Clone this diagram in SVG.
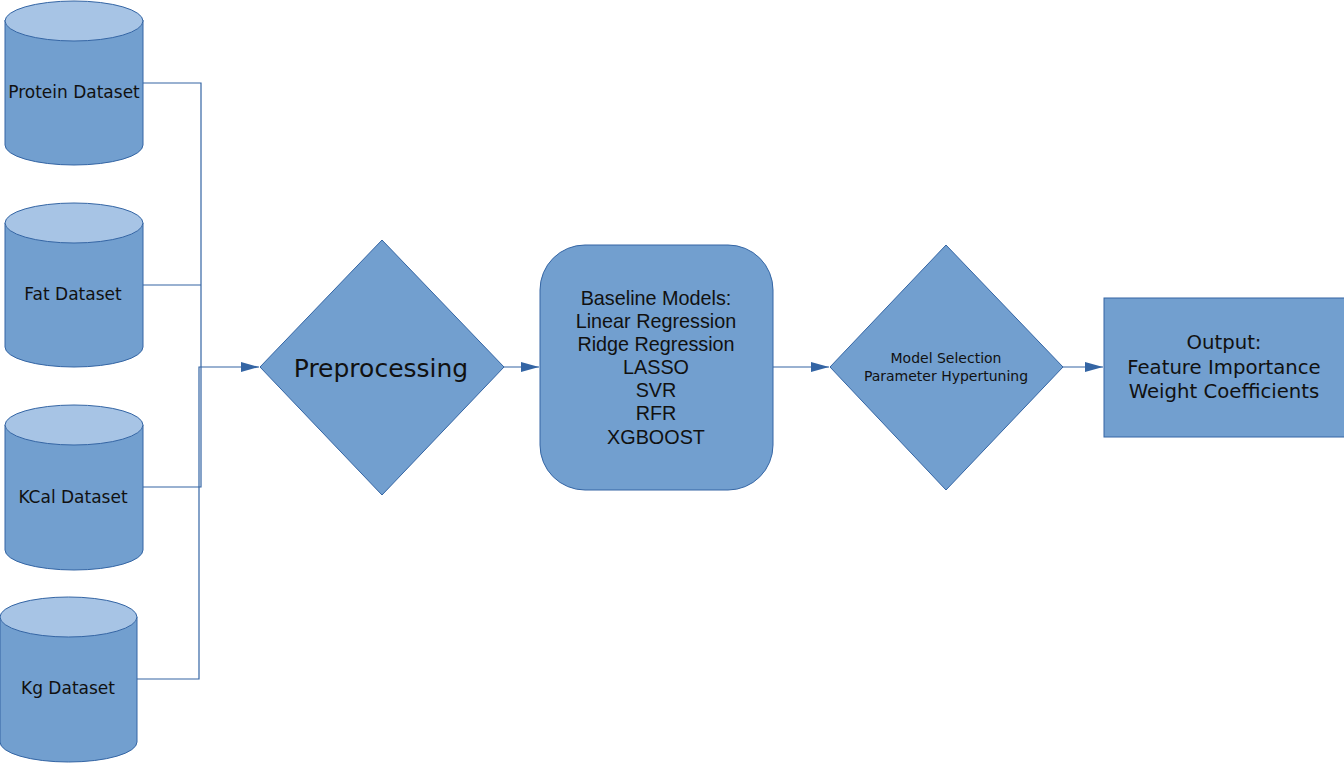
<svg xmlns="http://www.w3.org/2000/svg" width="1344" height="768" viewBox="0 0 1344 768">
<defs>
<style>
.shape{fill:#729fcf;stroke:#3465a4;stroke-width:1}
.top{fill:#a7c4e5;stroke:#3465a4;stroke-width:1}
.conn{fill:none;stroke:#3465a4;stroke-width:1.2}
.ds{font-family:"DejaVu Sans",sans-serif;font-size:17px;fill:#111;text-anchor:middle}
.dv{font-family:"DejaVu Sans",sans-serif;fill:#111;text-anchor:middle}
.lib{font-family:"Liberation Sans",Arial,sans-serif;font-size:19.8px;fill:#111;text-anchor:middle}
</style>
<marker id="arr" markerUnits="userSpaceOnUse" markerWidth="20" markerHeight="12" refX="18" refY="5" orient="auto">
<path d="M0,0 L18,5 L0,10 Z" fill="#3465a4"/>
</marker>
</defs>
<rect width="1344" height="768" fill="#ffffff"/>
<g id="connectors">
<path class="conn" d="M143,83 H201 V367"/>
<path class="conn" d="M143,285 H201"/>
<path class="conn" d="M143,487 H201 V367"/>
<path class="conn" d="M137,679 H199 V367 H259" marker-end="url(#arr)"/>
<path class="conn" d="M504,367 H539" marker-end="url(#arr)"/>
<path class="conn" d="M773,367 H829" marker-end="url(#arr)"/>
<path class="conn" d="M1063,367 H1103" marker-end="url(#arr)"/>
</g>
<g id="protein">
<path class="shape" d="M5,20 V145 A69,20 0 0 0 143,145 V20 Z"/>
<ellipse class="top" cx="74" cy="21" rx="69" ry="20"/>
<text class="ds" x="74" y="98">Protein Dataset</text>
</g>
<g id="fat">
<path class="shape" d="M5,223 V347 A69,20 0 0 0 143,347 V223 Z"/>
<ellipse class="top" cx="74" cy="223" rx="69" ry="20"/>
<text class="ds" x="73" y="300">Fat Dataset</text>
</g>
<g id="kcal">
<path class="shape" d="M5,425 V550 A69,20 0 0 0 143,550 V425 Z"/>
<ellipse class="top" cx="74" cy="425" rx="69" ry="20"/>
<text class="ds" x="73" y="503">KCal Dataset</text>
</g>
<g id="kg">
<path class="shape" d="M0,617 V742 A68.5,20 0 0 0 137,742 V617 Z"/>
<ellipse class="top" cx="68.5" cy="617" rx="68.5" ry="20"/>
<text class="ds" x="68" y="694">Kg Dataset</text>
</g>
<g id="preprocessing">
<path class="shape" d="M260,367 L382,240 L504,367 L382,495 Z"/>
<text class="dv" x="381" y="377" font-size="25">Preprocessing</text>
</g>
<g id="baseline">
<rect class="shape" x="540" y="245" width="233" height="245" rx="45" ry="45"/>
<text class="lib" x="656" y="305">Baseline Models:</text>
<text class="lib" x="656" y="328">Linear Regression</text>
<text class="lib" x="656" y="351">Ridge Regression</text>
<text class="lib" x="656" y="374">LASSO</text>
<text class="lib" x="656" y="397">SVR</text>
<text class="lib" x="656" y="420">RFR</text>
<text class="lib" x="656" y="444">XGBOOST</text>
</g>
<g id="model-selection">
<path class="shape" d="M830,367 L946,245 L1063,367 L946,490 Z"/>
<text class="dv" x="946" y="363" font-size="14">Model Selection</text>
<text class="dv" x="946" y="381" font-size="14">Parameter Hypertuning</text>
</g>
<g id="output">
<rect class="shape" x="1104" y="298" width="245" height="139"/>
<text class="dv" x="1224" y="349" font-size="19.7">Output:</text>
<text class="dv" x="1224" y="374" font-size="19.7">Feature Importance</text>
<text class="dv" x="1224" y="398" font-size="19.7">Weight Coefficients</text>
</g>
</svg>
